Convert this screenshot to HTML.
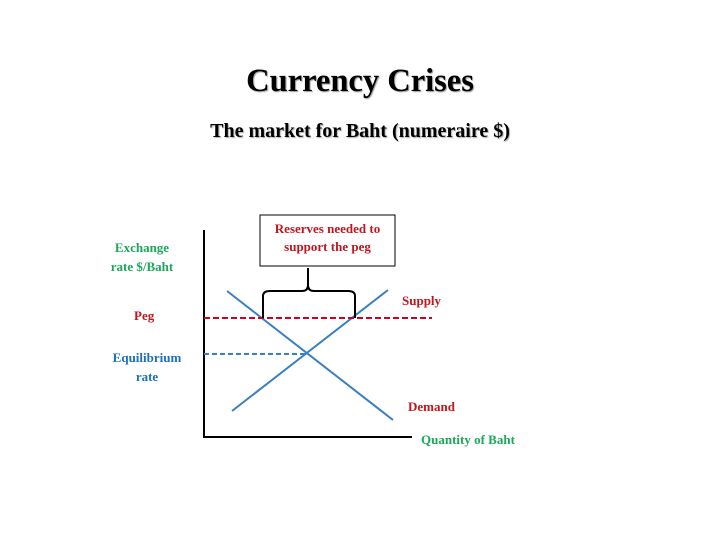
<!DOCTYPE html>
<html><head><style>
body{margin:0;background:#fff;width:720px;height:556px;overflow:hidden;font-family:"Liberation Serif",serif;font-weight:bold}
.t{position:absolute;white-space:nowrap}
</style></head><body>
<div class="t" style="left:0;width:720px;text-align:center;top:63px;font-size:32.5px;text-shadow:1px 1px 1px #999">Currency Crises</div>
<div class="t" style="left:0;width:720px;text-align:center;top:120px;font-size:20px;text-shadow:1px 1px 1px #aaa">The market for Baht (numeraire $)</div>
<svg width="720" height="556" style="position:absolute;left:0;top:0">
<line x1="204" y1="230" x2="204" y2="437" stroke="#000" stroke-width="2"/>
<line x1="203" y1="437" x2="412" y2="437" stroke="#000" stroke-width="2"/>
<line x1="227" y1="291" x2="393" y2="420" stroke="#3a7fc1" stroke-width="2"/>
<line x1="232" y1="411" x2="388" y2="290" stroke="#3a7fc1" stroke-width="2"/>
<line x1="204" y1="318" x2="432" y2="318" stroke="#d0021b" stroke-width="2" stroke-dasharray="6,3"/>
<line x1="204" y1="354" x2="307" y2="354" stroke="#3a7fc1" stroke-width="2" stroke-dasharray="5,3"/>
<rect x="260" y="215" width="135" height="51" fill="#fff" stroke="#000" stroke-width="1"/>
<path d="M263 318 V296 Q263 291 270 291 H302 Q308 291 308 285 V268 M308 268 V285 Q308 291 314 291 H348 Q355 291 355 296 V318" fill="none" stroke="#000" stroke-width="2"/>
</svg>
<div class="t" style="left:260px;width:135px;text-align:center;top:220px;font-size:13px;line-height:18px;color:#c0161e">Reserves needed to<br>support the peg</div>
<div class="t" style="left:100px;width:84px;text-align:center;top:238px;font-size:13px;line-height:19px;color:#1aa85a">Exchange<br>rate $/Baht</div>
<div class="t" style="left:134px;top:308px;font-size:13px;color:#c0161e">Peg</div>
<div class="t" style="left:100px;width:94px;text-align:center;top:348px;font-size:13px;line-height:19px;color:#1d6fbd">Equilibrium<br>rate</div>
<div class="t" style="left:402px;top:293px;font-size:13px;color:#c0161e">Supply</div>
<div class="t" style="left:408px;top:399px;font-size:13px;color:#c0161e">Demand</div>
<div class="t" style="left:421px;top:432px;font-size:13px;color:#1aa85a">Quantity of Baht</div>
</body></html>
